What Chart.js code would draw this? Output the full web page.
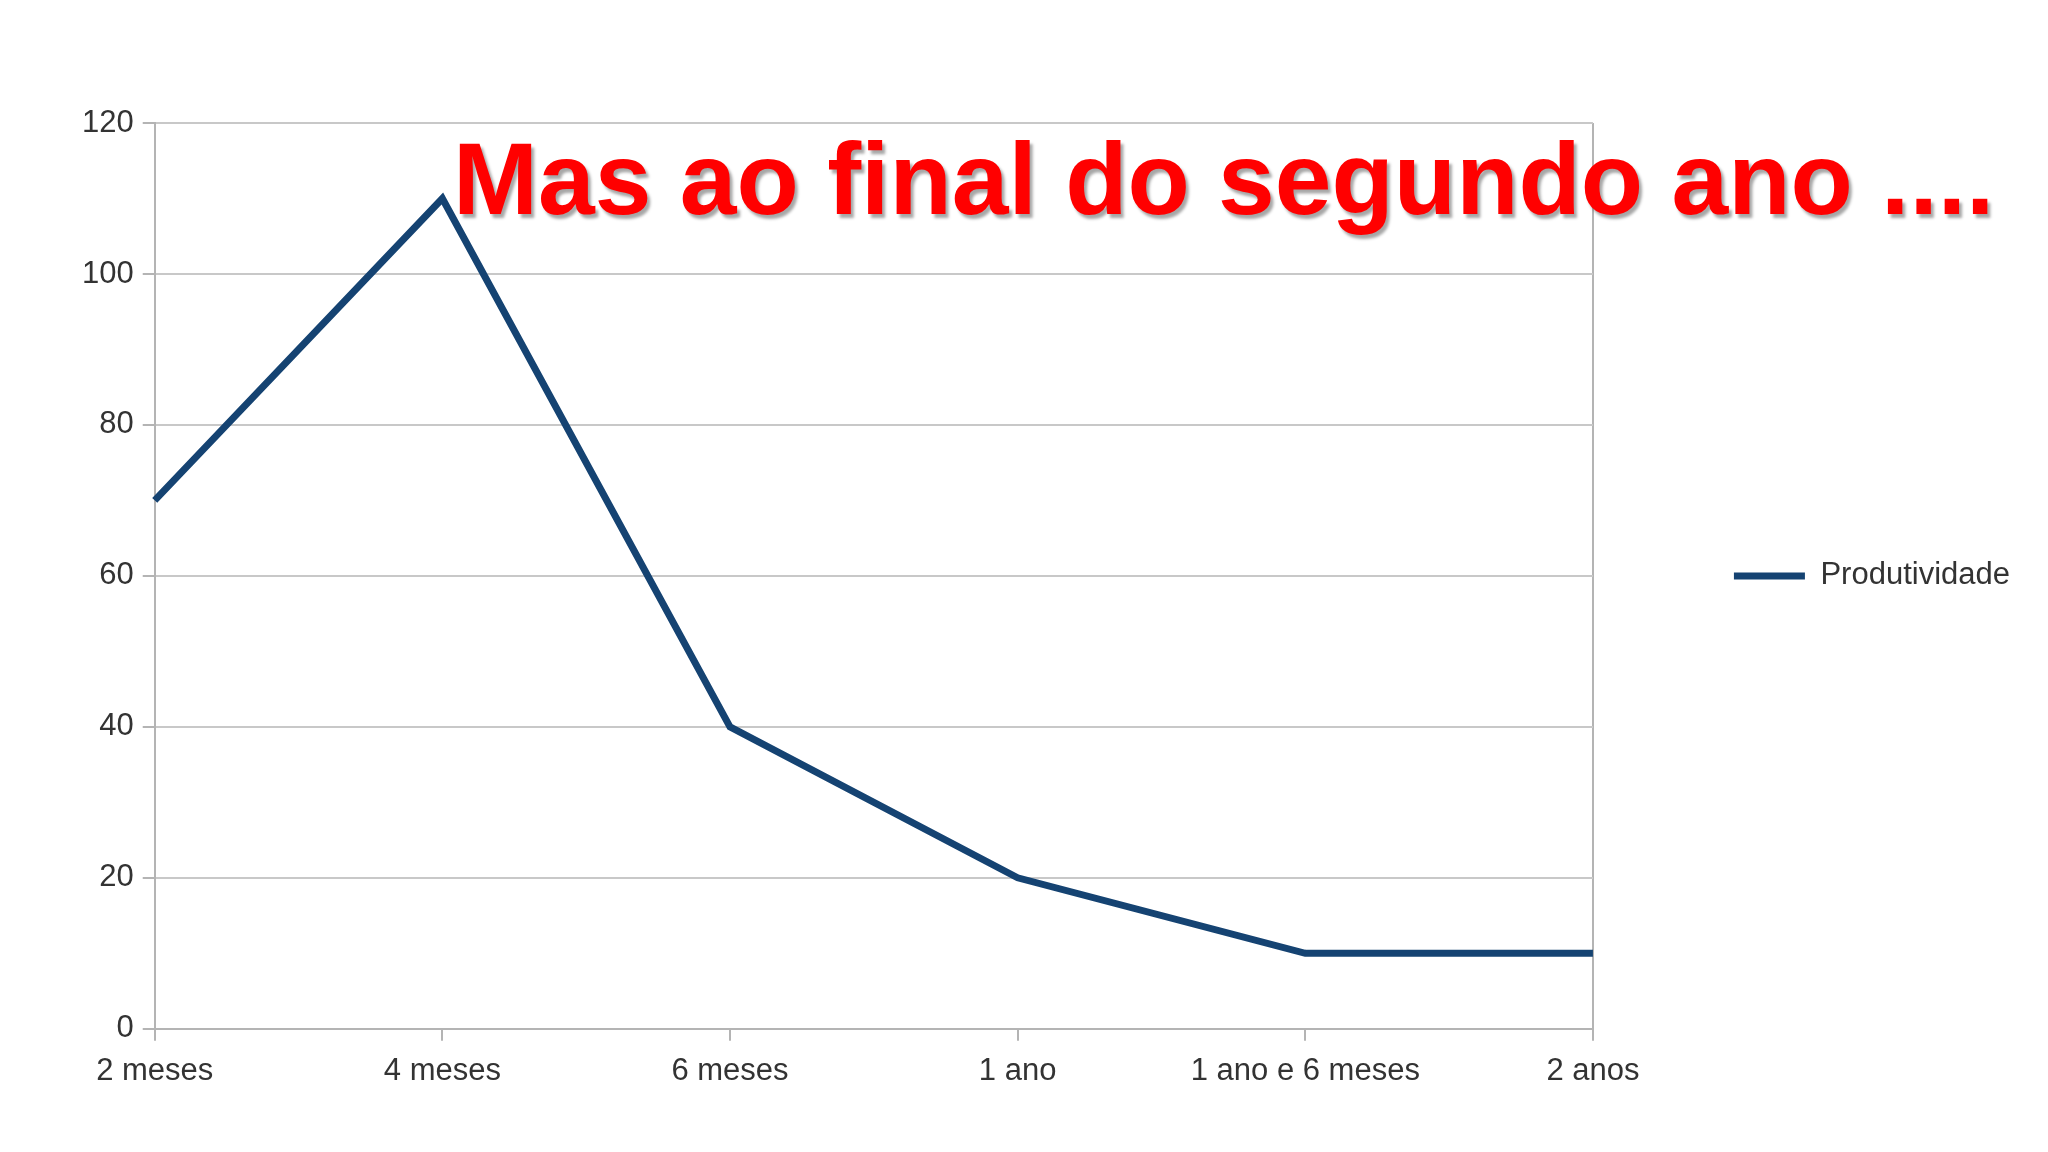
<!DOCTYPE html>
<html>
<head>
<meta charset="utf-8">
<script src="https://cdn.jsdelivr.net/npm/chart.js@4/dist/chart.umd.min.js"></script>
<style>
    html, body { margin: 0; padding: 0; background: #ffffff; }
    #wrap { position: relative; width: 2048px; height: 1152px; }
    #headline {
        position: absolute;
        left: 453px;
        top: 128px;
        font-family: "Liberation Sans", Arial, sans-serif;
        font-weight: bold;
        font-size: 102px;
        line-height: 1;
        color: #ff0000;
        white-space: nowrap;
        text-shadow: 3px 4px 3px rgba(0, 0, 0, 0.35);
    }
</style>
</head>
<body>
<div id="wrap">
    <canvas id="myChart"></canvas>
    <div id="headline">Mas ao final do segundo ano ....</div>
</div>
<script>
var categories = ["2 meses", "4 meses", "6 meses", "1 ano", "1 ano e 6 meses", "2 anos"];
var produtividade = [70, 110, 40, 20, 10, 10];
var yTicks = [0, 20, 40, 60, 80, 100, 120];

var gridGray = "#c8c8c8";
var axisGray = "#b4b4b4";
var lineColor = "#154372";

var config = {
    type: 'line',
    data: {
        labels: categories,
        datasets: [{
            label: 'Produtividade',
            data: produtividade,
            borderColor: lineColor,
            backgroundColor: lineColor,
            borderWidth: 7,
            pointRadius: 0,
            pointHoverRadius: 0,
            tension: 0,
            fill: false
        }]
    },
    options: {
        responsive: true,
        maintainAspectRatio: false,
        animation: false,
        layout: {
            padding: { top: 123, left: 73, right: 28, bottom: 50 }
        },
        plugins: {
            tooltip: { enabled: false },
            title: { display: false },
            legend: {
                position: 'right',
                fullSize: false,
                labels: {
                    usePointStyle: true,
                    pointStyle: 'line',
                    pointStyleWidth: 71,
                    padding: 141,
                    color: '#333333',
                    font: { family: 'Liberation Sans', size: 31 }
                }
            }
        },
        scales: {
            x: {
                offset: false,
                border: { display: true, color: axisGray, width: 2 },
                grid: {
                    drawOnChartArea: true,
                    drawTicks: true,
                    tickLength: 12,
                    lineWidth: 2,
                    tickWidth: 2,
                    tickColor: axisGray,
                    color: function(ctx) {
                        return ctx.index === categories.length - 1 ? axisGray : 'rgba(0,0,0,0)';
                    }
                },
                ticks: {
                    padding: 12,
                    maxRotation: 0,
                    autoSkip: false,
                    color: '#333333',
                    font: { family: 'Liberation Sans', size: 31 }
                }
            },
            y: {
                min: yTicks[0],
                max: yTicks[yTicks.length - 1],
                border: { display: true, color: axisGray, width: 2 },
                grid: {
                    color: gridGray,
                    lineWidth: 2,
                    tickLength: 12,
                    tickColor: axisGray
                },
                afterBuildTicks: function(scale) {
                    scale.ticks = yTicks.map(function(v) { return { value: v }; });
                },
                ticks: {
                    padding: 9,
                    color: '#333333',
                    font: { family: 'Liberation Sans', size: 31 }
                }
            }
        }
    }
};

var myChart = new Chart(document.getElementById("myChart").getContext("2d"), config);
</script>
</body>
</html>
